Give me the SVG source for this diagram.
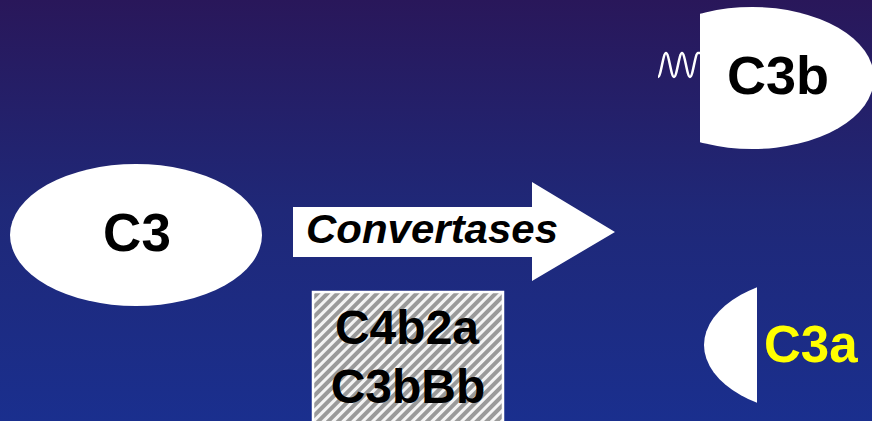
<svg xmlns="http://www.w3.org/2000/svg" width="872" height="421" viewBox="0 0 872 421">
  <defs>
    <linearGradient id="bg" x1="0" y1="0" x2="0" y2="1">
      <stop offset="0" stop-color="#29175a"/>
      <stop offset="0.5" stop-color="#1f2878"/>
      <stop offset="1" stop-color="#1a2f8e"/>
    </linearGradient>
    <pattern id="stripes" width="7" height="7" patternUnits="userSpaceOnUse" patternTransform="rotate(45)">
      <rect width="7" height="7" fill="#9a9a9a"/>
      <rect x="0" y="0" width="3" height="7" fill="#f4f4f4"/>
    </pattern>
    <clipPath id="clipB"><rect x="700" y="0" width="172" height="160"/></clipPath>
    <clipPath id="clipA"><rect x="690" y="270" width="67" height="150"/></clipPath>
  </defs>
  <style>
    .lbl { font-family: "Liberation Sans", Arial, sans-serif; font-weight: bold; fill: #000; text-anchor: middle; }
    .shape { fill: #fff; }
  </style>
  <rect width="872" height="421" fill="url(#bg)"/>

  <g id="connectors">
    <path d="M658,77 C661,77 663,53 666,53 C669,53 671,77 674,77 C677,77 679,53 682,53 C685,53 687,77 690,77 C693,77 695,53 698,53 L702,53" fill="none" stroke="#fff" stroke-width="2.5"/>
  </g>

  <g id="node-C3">
    <ellipse class="shape" cx="136" cy="235" rx="126" ry="71"/>
    <text class="lbl" x="137" y="251" font-size="53">C3</text>
  </g>

  <g id="node-convertases">
    <polygon class="shape" points="293,207 532,207 532,182 615,232 532,281 532,257 293,257"/>
    <text x="306" y="243" font-family="Liberation Sans, Arial, sans-serif" font-weight="bold" font-style="italic" font-size="41" fill="#000" textLength="252" lengthAdjust="spacingAndGlyphs">Convertases</text>
  </g>

  <g id="node-C3b">
    <ellipse class="shape" cx="752" cy="78" rx="122" ry="71" clip-path="url(#clipB)"/>
    <text class="lbl" x="778" y="94" font-size="54">C3b</text>
  </g>

  <g id="node-C3a">
    <ellipse class="shape" cx="830" cy="345" rx="126" ry="71" clip-path="url(#clipA)"/>
    <text x="764" y="362" font-family="Liberation Sans, Arial, sans-serif" font-weight="bold" font-size="51" fill="#ffff00">C3a</text>
  </g>

  <g id="node-C4b2a">
    <rect x="313" y="292" width="190" height="140" fill="url(#stripes)" stroke="#fff" stroke-width="2.5"/>
    <text class="lbl" x="407" y="344" font-size="48">C4b2a</text>
    <text class="lbl" x="408" y="403" font-size="48">C3bBb</text>
  </g>
</svg>
